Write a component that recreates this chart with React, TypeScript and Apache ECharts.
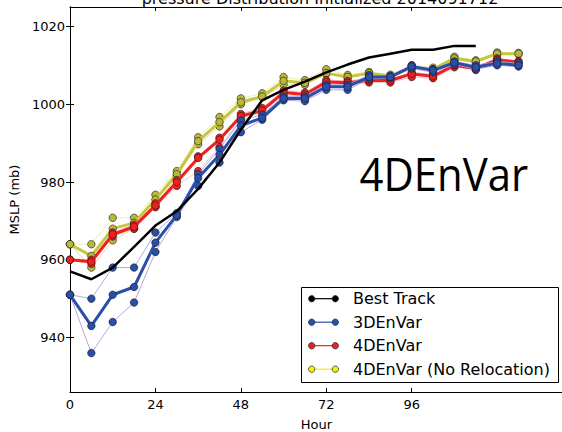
import React, { useEffect, useRef } from "react";
import * as echarts from "echarts";

const hours = [0, 6, 12, 18, 24, 30, 36, 42, 48, 54, 60, 66, 72, 78, 84, 90, 96, 102, 108, 114, 120, 126];
const xTicks = [0, 24, 48, 72, 96];
const yTicks = [940, 960, 980, 1000, 1020];

const bestTrack = [957, 955, 958, 963.3, 968.8, 972.5, 978.2, 985, 993.5, 1001, 1003.7, 1005.8, 1008.2, 1010.2, 1012, 1013, 1014, 1014, 1015, 1015];

const env3d = [951, 943, 951, 953, 964.4, 971.5, 981, 987, 994.5, 996.5, 1001.5, 1001.5, 1004.5, 1004.5, 1007, 1007, 1009.7, 1008.7, 1010.7, 1009.5, 1010.5, 1010];
const env3dA = [951, 950, 958, 958, 967, 972, 982, 988.5, 995.8, 997.3, 1002, 1002, 1005, 1005, 1007.5, 1007.3, 1010, 1009, 1011, 1010, 1011, 1010.5];
const env3dB = [951, 936, 944, 949, 962, 971, 979, 985, 992.8, 996, 1001, 1000.8, 1003.7, 1003.7, 1006.5, 1006.7, 1009.2, 1008.2, 1010.2, 1009, 1010, 1009.7];

const env4d = [960, 959.5, 966.5, 968.5, 974, 980, 986.2, 990.9, 996.9, 998.4, 1003, 1002.5, 1005.7, 1005.5, 1006.1, 1006.1, 1007.8, 1007.2, 1010, 1009.2, 1011.4, 1010.8];
const env4dA = [960, 960, 967, 969, 974.5, 980.5, 986.6, 991.4, 997.5, 999, 1003.5, 1003, 1006.2, 1006, 1006.6, 1006.5, 1008.2, 1007.6, 1010.4, 1009.6, 1011.8, 1011.1];
const env4dB = [960, 959, 966, 968, 973.5, 979, 982.8, 989, 996, 998, 1002.4, 1002, 1005, 1004.9, 1005.6, 1005.6, 1007, 1006.7, 1009.5, 1008.8, 1011, 1010.5];

const env4dNR = [964, 961, 968, 969.5, 975.5, 982, 990.5, 995.4, 1000.5, 1002, 1006, 1005.5, 1008, 1007, 1008, 1007.2, 1009.6, 1009, 1011.8, 1011, 1013, 1013];
const env4dNRA = [964, 964, 970.8, 970.8, 976.7, 982.8, 991.5, 996.7, 1001.5, 1002.8, 1007, 1006.2, 1009, 1007.5, 1008.3, 1007.6, 1010, 1009.4, 1012.2, 1011.3, 1013.3, 1013.2];
const env4dNRB = [964, 958, 965, 968, 973.7, 981.5, 989.7, 994.3, 1000, 1001.8, 1005, 1005, 1007.8, 1006.8, 1007.7, 1006.9, 1009.2, 1008.7, 1011.5, 1010.7, 1012.7, 1012.8];

const legendNames = ["Best Track", "3DEnVar", "4DEnVar", "4DEnVar (No Relocation)"];
const legendColors = ["#000000", "#2a4fa8", "#ee2020", "#f2f200"];

const FONT = "DejaVu Sans";

function pts(vals: number[]) {
  return vals.map((v, i) => [hours[i], v]);
}

function lineSeries(name: string, vals: number[], lineColor: string, width: number, fill: string | null, z: number, opacity = 1) {
  return {
    type: "line",
    name,
    data: pts(vals),
    z,
    silent: true,
    showSymbol: fill !== null,
    symbol: "circle",
    symbolSize: 7.5,
    lineStyle: { color: lineColor, width, opacity },
    itemStyle: fill !== null ? { color: fill, borderColor: "rgba(20,20,20,0.75)", borderWidth: 0.8 } : undefined,
  };
}

export default function App() {
  const ref = useRef<HTMLDivElement>(null);
  useEffect(() => {
    if (!ref.current) return;
    const chart = echarts.init(ref.current, null, { renderer: "svg" });
    const axisLine = { show: true, lineStyle: { color: "#000", width: 1 } };
    const tick = { show: true, inside: true, length: 4, lineStyle: { color: "#000" } };

    const blue = "#2a4fa8";
    const red = "#ee2020";
    const olive = "#b8b83a";

    const series: any[] = [
      lineSeries("4DEnVar (No Relocation) A", env4dNRA, "#ecec9c", 1, olive, 2, 0.9),
      lineSeries("4DEnVar (No Relocation) B", env4dNRB, "#f3cf94", 1, olive, 2, 0.9),
      lineSeries("4DEnVar (No Relocation)", env4dNR, "#c6c640", 3, olive, 3),
      lineSeries("4DEnVar A", env4dA, "#f6a6a6", 1, red, 4, 0.9),
      lineSeries("4DEnVar B", env4dB, "#f4bcc8", 1, red, 4, 0.9),
      lineSeries("4DEnVar", env4d, red, 3, red, 5),
      lineSeries("3DEnVar A", env3dA, "#a4a4e4", 1, blue, 6, 0.9),
      lineSeries("3DEnVar B", env3dB, "#b49ad8", 1, blue, 6, 0.9),
      lineSeries("3DEnVar", env3d, blue, 3, blue, 7),
      {
        type: "line",
        name: "Best Track",
        data: bestTrack.map((v, i) => [hours[i], v]),
        z: 8,
        silent: true,
        showSymbol: false,
        lineStyle: { color: "#000", width: 2.5 },
      },
    ];

    const legendX = 301;
    const legendY = 287;
    const rowH = 23.5;
    const legendGraphics: any[] = [
      {
        type: "rect",
        shape: { x: legendX + 0.5, y: legendY + 0.5, width: 257, height: 95 },
        style: { fill: "#fff", stroke: "#000", lineWidth: 1 },
        z: 100,
      },
    ];
    legendNames.forEach((n, i) => {
      const cy = legendY + 11.7 + i * rowH;
      const c = legendColors[i];
      legendGraphics.push({
        type: "line",
        shape: { x1: 311.7, y1: cy, x2: 335.3, y2: cy },
        style: { stroke: c, lineWidth: 1.2 },
        z: 101,
      });
      [311.7, 335.3].forEach((cx) => {
        legendGraphics.push({
          type: "circle",
          shape: { cx, cy, r: 3.2 },
          style: { fill: c, stroke: "#222", lineWidth: 0.7 },
          z: 102,
        });
      });
      legendGraphics.push({
        type: "text",
        x: 353,
        y: cy,
        style: { text: n, font: `16px '${FONT}'`, fill: "#000", verticalAlign: "middle", align: "left" },
        z: 102,
      });
    });

    const fmt = (v: number) => String(v);

    const option: any = {
      animation: false,
      backgroundColor: "#fff",
      textStyle: { fontFamily: FONT },
      grid: { left: 70, right: -1, top: 7, bottom: 40, containLabel: false, outerBoundsMode: "none" },
      xAxis: [
        {
          type: "value",
          min: 0,
          max: 138.5,
          position: "bottom",
          axisLine,
          axisTick: { ...tick, customValues: xTicks },
          axisLabel: { customValues: xTicks, formatter: fmt, color: "#000", fontSize: 13, fontFamily: FONT, margin: 6 },
          splitLine: { show: false },
          name: "Hour",
          nameLocation: "middle",
          nameGap: 26,
          nameTextStyle: { color: "#000", fontSize: 13, fontFamily: FONT },
        },
        {
          type: "value",
          min: 0,
          max: 138.5,
          position: "top",
          axisLine,
          axisTick: { ...tick, customValues: xTicks },
          axisLabel: { show: false },
          splitLine: { show: false },
        },
      ],
      yAxis: [
        {
          type: "value",
          min: 926,
          max: 1025,
          position: "left",
          axisLine,
          axisTick: { ...tick, customValues: yTicks },
          axisLabel: { customValues: yTicks, formatter: fmt, color: "#000", fontSize: 13, fontFamily: FONT, margin: 5 },
          splitLine: { show: false },
          name: "MSLP (mb)",
          nameLocation: "middle",
          nameGap: 41,
          nameTextStyle: { color: "#000", fontSize: 13, fontFamily: FONT },
        },
        {
          type: "value",
          min: 926,
          max: 1025,
          position: "right",
          axisLine,
          axisTick: { ...tick, customValues: yTicks },
          axisLabel: { show: false },
          splitLine: { show: false },
        },
      ],
      graphic: [
        {
          type: "text",
          x: 320,
          y: -1.5,
          style: {
            text: "pressure Distribution Initialized 2014091712",
            font: `16px '${FONT}'`,
            fill: "#000",
            align: "center",
            verticalAlign: "middle",
          },
        },
        {
          type: "text",
          x: 359.5,
          y: 173.6,
          scaleX: 0.91,
          style: {
            text: "4DEnVar",
            font: "46px 'Open Sans'",
            fill: "#000",
            align: "left",
            verticalAlign: "middle",
          },
          z: 50,
        },
        ...legendGraphics,
      ],
      series,
    };
    chart.setOption(option);
    return () => chart.dispose();
  }, []);
  return <div ref={ref} style={{ position: "fixed", left: 0, top: 0, width: 562, height: 432 }} />;
}
